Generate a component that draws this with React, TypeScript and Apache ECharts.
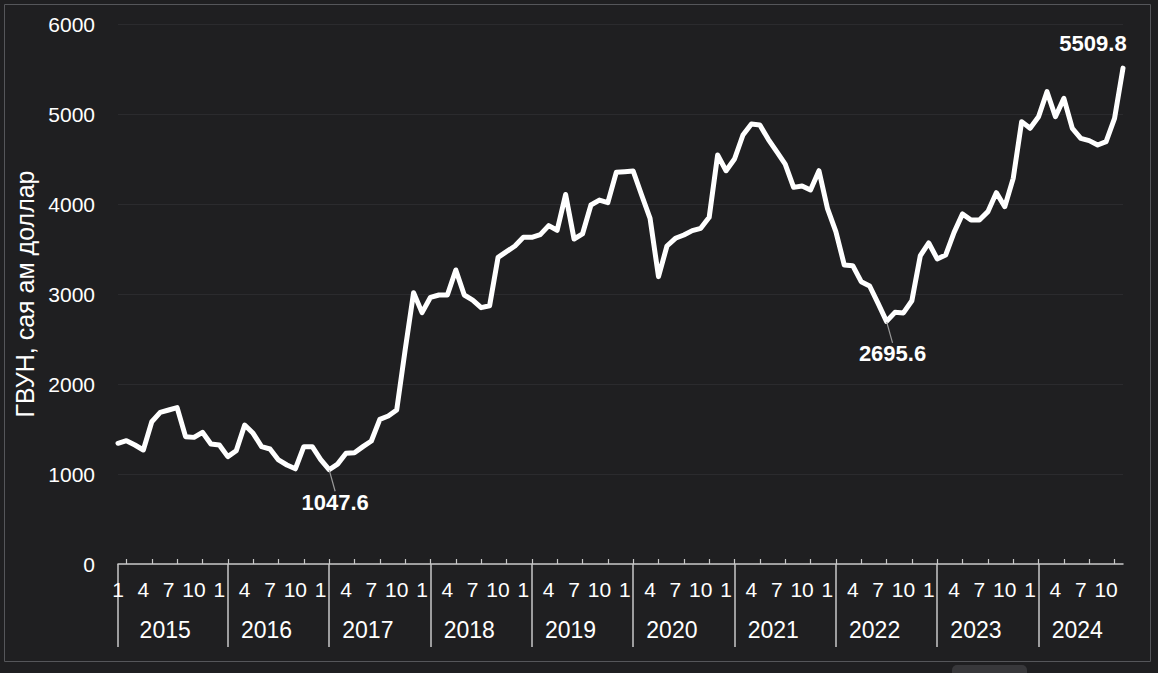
import React, { useEffect, useRef } from 'react';
import * as echarts from 'echarts';

const years = ['2015', '2016', '2017', '2018', '2019', '2020', '2021', '2022', '2023', '2024'];
const months = [1, 2, 3, 4, 5, 6, 7, 8, 9, 10, 11, 12];
const monthLabelsShown = [1, 4, 7, 10];

const v2015 = [1341, 1370, 1322, 1267, 1581, 1685, 1711, 1737, 1415, 1407, 1463, 1333];
const v2016 = [1322, 1193, 1259, 1544, 1452, 1304, 1278, 1156, 1100, 1058, 1304, 1304];
const v2017 = [1160, 1047.6, 1110, 1230, 1237, 1304, 1367, 1607, 1644, 1711, 2378, 3015];
const v2018 = [2793, 2963, 2989, 2989, 3267, 2989, 2933, 2848, 2870, 3407, 3470, 3533];
const v2019 = [3630, 3630, 3660, 3760, 3708, 4105, 3611, 3667, 3989, 4044, 4015, 4352];
const v2020 = [4359, 4367, 4100, 3841, 3193, 3533, 3619, 3656, 3704, 3730, 3852, 4544];
const v2021 = [4370, 4500, 4767, 4889, 4878, 4719, 4581, 4444, 4185, 4200, 4156, 4370];
const v2022 = [3952, 3693, 3322, 3315, 3137, 3089, 2896, 2695.6, 2796, 2790, 2925, 3425];
const v2023 = [3567, 3390, 3433, 3685, 3890, 3822, 3822, 3915, 4126, 3970, 4285, 4915];
const v2024 = [4841, 4970, 5248, 4970, 5174, 4841, 4730, 4704, 4656, 4693, 4952, 5509.8];

const annotatedBelow = [1047.6, 2695.6];
const annotatedAbove = [5509.8];

const yAxisName = 'ГВУН, сая ам доллар';
const yMin = 0;
const yMax = 6000;
const yInterval = 1000;

const FONT = '"Liberation Sans", Arial, sans-serif';

export default function App() {
  const ref = useRef<HTMLDivElement>(null);

  useEffect(() => {
    if (!ref.current) return;
    const chart = echarts.init(ref.current, null, { renderer: 'svg' });

    const categories: string[] = [];
    years.forEach((y) => months.forEach((m) => categories.push(`${y}-${m}`)));
    const values = [...v2015, ...v2016, ...v2017, ...v2018, ...v2019, ...v2020, ...v2021, ...v2022, ...v2023, ...v2024];

    const labelStyle = {
      color: '#ffffff',
      fontSize: 22,
      fontWeight: 'bold' as const,
      fontFamily: FONT,
    };

    const data = values.map((v) => {
      if (annotatedBelow.includes(v)) {
        return {
          value: v,
          label: { show: true, position: 'bottom', distance: 4, formatter: v.toFixed(1), ...labelStyle },
          labelLine: { show: true, lineStyle: { color: '#9a9a9a', width: 1.2 } },
        };
      }
      if (annotatedAbove.includes(v)) {
        return {
          value: v,
          label: { show: true, position: 'top', distance: 4, formatter: v.toFixed(1), ...labelStyle },
          labelLine: { show: false },
        };
      }
      return { value: v };
    });

    const option: any = {
      animation: false,
      backgroundColor: '#1f1f21',
      grid: { left: 118, right: 35, top: 24, bottom: 109, containLabel: false },
      xAxis: [
        {
          type: 'category',
          data: categories,
          boundaryGap: false,
          position: 'bottom',
          axisLine: { show: true, lineStyle: { color: '#c8c8c8', width: 1.5 } },
          axisTick: {
            show: true,
            inside: true,
            length: 5,
            interval: (i: number) => i % 3 === 1,
            lineStyle: { color: '#c8c8c8', width: 1.2 },
          },
          axisLabel: {
            interval: (i: number) => monthLabelsShown.includes(months[i % 12]),
            formatter: (val: string) => val.split('-')[1],
            color: '#ffffff',
            fontSize: 21,
            fontFamily: FONT,
            margin: 15,
          },
          splitLine: { show: false },
        },
        {
          type: 'category',
          data: categories,
          boundaryGap: false,
          position: 'bottom',
          axisLine: { show: false },
          axisTick: {
            show: true,
            inside: false,
            length: 83,
            interval: (i: number) => i === 0 || (i > 12 && i % 12 === 1),
            lineStyle: { color: '#c8c8c8', width: 1.5 },
          },
          axisLabel: {
            interval: (i: number) => i % 12 === 6,
            formatter: (val: string) => val.split('-')[0],
            color: '#ffffff',
            fontSize: 23,
            fontFamily: FONT,
            margin: 54,
            padding: [0, 7, 0, 0],
          },
          splitLine: { show: false },
        },
      ],
      yAxis: {
        type: 'value',
        min: yMin,
        max: yMax,
        interval: yInterval,
        name: yAxisName,
        nameLocation: 'middle',
        nameGap: 80,
        nameRotate: 90,
        nameTextStyle: { color: '#ffffff', fontSize: 25, fontFamily: FONT },
        axisLine: { show: false },
        axisTick: { show: false },
        axisLabel: {
          color: '#ffffff',
          fontSize: 21,
          fontFamily: FONT,
          margin: 23,
          formatter: (v: number) => String(v),
        },
        splitLine: { show: true, lineStyle: { color: '#2b2b2e', width: 1 } },
      },
      series: [
        {
          type: 'line',
          data,
          xAxisIndex: 0,
          symbol: 'circle',
          symbolSize: 1,
          showSymbol: true,
          itemStyle: { color: '#ffffff' },
          lineStyle: { color: '#ffffff', width: 5, join: 'round', cap: 'round' },
          labelLayout: (params: any) => {
            const v = values[params.dataIndex];
            if (annotatedAbove.includes(v)) return { dx: -30, dy: -9 };
            return { dx: 6, dy: 17 };
          },
          labelLine: { show: false, lineStyle: { color: '#9a9a9a', width: 1.2 } },
        },
      ],
      graphic: [
        {
          type: 'rect',
          shape: { x: 4.5, y: 4.5, width: 1146, height: 657 },
          style: { fill: 'none', stroke: '#55565a', lineWidth: 1 },
          silent: true,
        },
        {
          type: 'rect',
          shape: { x: 952, y: 665, width: 75, height: 14, r: 5 },
          style: { fill: '#38383b' },
          silent: true,
        },
      ],
    };

    chart.setOption(option);
    return () => chart.dispose();
  }, []);

  return (
    <div
      ref={ref}
      style={{ position: 'fixed', left: 0, top: 0, width: 1158, height: 673 }}
    />
  );
}
